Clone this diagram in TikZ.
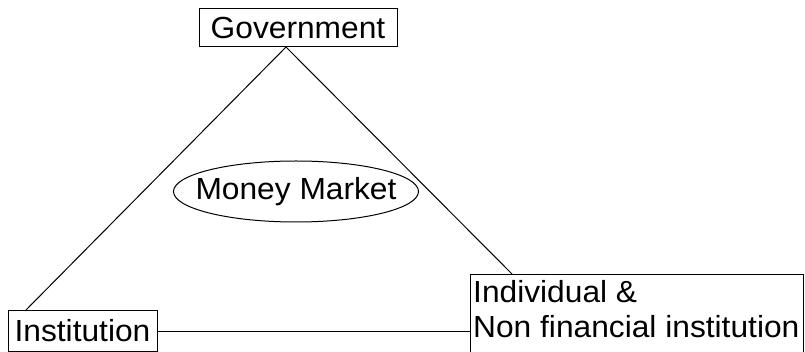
\documentclass[tikz,border=0pt]{standalone}
\usepackage{fontspec}
\setmainfont[FakeStretch=1.04]{Liberation Sans}
\begin{document}
\begin{tikzpicture}[x=1pt,y=-1pt,
  every node/.style={font=\fontsize{30.5}{34}\selectfont, text=black},
  box/.style={draw=black, line width=1pt, inner sep=0pt, rectangle},
  conn/.style={draw=black, line width=1pt}]
\useasboundingbox (0,0) rectangle (805,352);
\fill[white] (0,0) rectangle (805,352);
\node[box, minimum width=198pt, minimum height=38pt] (gov) at (298,28) {Government};
\node[box, minimum width=149pt, minimum height=40pt] (inst) at (82.5,331) {Institution};
\node[box, anchor=north west, minimum width=333pt, minimum height=82pt] (ind) at (470,274) {};
\node[anchor=base west, inner sep=0pt, align=left] (indtext) at (473,337) {Individual \&\\Non financial institution};
\node[inner sep=0pt] (mm) at (296,191.5) {Money Market};
\draw[conn] (mm.center) ellipse [x radius=122.5pt, y radius=30.5pt];
\coordinate (apex) at (286,47);
\coordinate (instTop) at (25,311);
\coordinate (indTop) at (512,274);
\draw[conn] (apex) -- (instTop);
\draw[conn] (apex) -- (indTop);
\draw[conn] (inst.east) -- (inst.east -| ind.west);
\end{tikzpicture}
\end{document}
